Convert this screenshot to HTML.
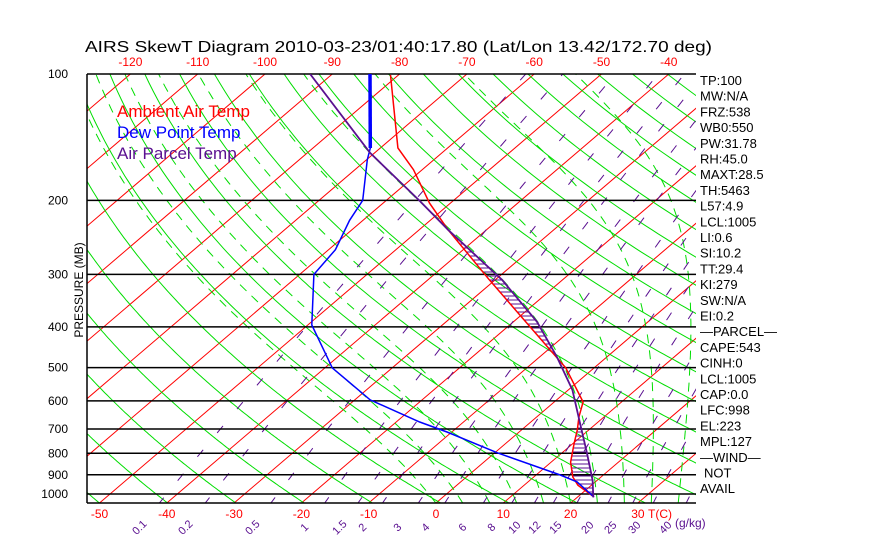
<!DOCTYPE html>
<html><head><meta charset="utf-8"><style>
html,body{margin:0;padding:0;background:#fff;}
svg{display:block;font-family:"Liberation Sans",sans-serif;}
</style></head><body>
<svg id="c" width="870" height="560" viewBox="0 0 870 560">
<defs><clipPath id="plot"><rect x="87" y="74" width="609" height="429"/></clipPath></defs>
<text x="85" y="52" font-size="16" fill="#000" textLength="627" lengthAdjust="spacingAndGlyphs">AIRS SkewT Diagram 2010-03-23/01:40:17.80 (Lat/Lon 13.42/172.70 deg)</text>
<text transform="translate(83,290) rotate(-90)" text-anchor="middle" font-size="12">PRESSURE (MB)</text>
<g id="grid" clip-path="url(#plot)"></g>
<g id="axes"></g>
<g id="series" clip-path="url(#plot)"></g>
<text x="117" y="117" font-size="17" fill="#ff0000">Ambient Air Temp</text>
<text x="117" y="138" font-size="17" fill="#0000ff">Dew Point Temp</text>
<text x="117" y="159" font-size="17" fill="#5a1090">Air Parcel Temp</text>
<g id="side" font-size="13"></g>
</svg>
<script>
const pressureLevels=[200,300,400,500,600,700,800,900,1000];
const pressureTickLabels=[100,200,300,400,500,600,700,800,900,1000];
const bottomTempTicks=[-50,-40,-30,-20,-10,0,10,20,30];
const topTempTicks=[-120,-110,-100,-90,-80,-70,-60,-50,-40];
const mixLabels=["0.1","0.2","0.5","1","1.5","2","3","4","6","8","10","12","15","20","25","30","40"];
const mixLabelX=[142,188,255,307,342,365,400,428,465,494,517,537,558,590,613,637,668];
const mixValues=[0.1,0.2,0.5,1,1.5,2,3,4,6,8,10,12,15,20,25,30,40];
const tempP=[100.5,150,169,203,235,309,371,447,501,604,656,704,756,840,911,953,1016];
const tempT=[-81.2,-67.4,-61.3,-53.1,-45.7,-30.9,-20.8,-10.5,-4.2,4.3,6.3,8.3,10.1,12.9,15.8,18.0,22.4];
const dewP=[100,150,160,200,223,262,300,396,501,597,674,712,798,901,936,1016];
const dewT=[-84.4,-71.5,-69.9,-63.5,-62.0,-59.0,-57.9,-49.4,-38.9,-27.7,-16.5,-10.7,0.4,13.6,17.3,22.4];
const parcelP=[100,154,200,235,309,389,472,565,678,798,927,1019];
const parcelT=[-93.3,-70.7,-55.1,-45.7,-29.0,-16.5,-7.4,0.6,7.5,13.7,19.3,22.4];
const sideLabels=["TP:100","MW:N/A","FRZ:538","WB0:550","PW:31.78","RH:45.0","MAXT:28.5","TH:5463","L57:4.9","LCL:1005","LI:0.6","SI:10.2","TT:29.4","KI:279","SW:N/A","EI:0.2","\u2014PARCEL\u2014","CAPE:543","CINH:0","LCL:1005","CAP:0.0","LFC:998","EL:223","MPL:127","\u2014WIND\u2014","NOT","AVAIL"];

const NS="http://www.w3.org/2000/svg";
const yP=p=>74+420*Math.log10(p/100);
const xT=(T,y)=>436+6.73*T+(503-y)*1.1702;
const pOfY=y=>100*Math.pow(10,(y-74)/420);
function mk(tag,attrs,parent){const e=document.createElementNS(NS,tag);for(const k in attrs)e.setAttribute(k,attrs[k]);parent.appendChild(e);return e;}
const grid=document.getElementById('grid'),axes=document.getElementById('axes'),series=document.getElementById('series'),side=document.getElementById('side');
function pathFrom(ps,ts){return ps.map((p,i)=>{const y=yP(p);return (i?'L':'M')+xT(ts[i],y).toFixed(1)+','+y.toFixed(1);}).join('');}

for(let T=-160;T<=50;T+=10){
 const l=mk('line',{x1:xT(T,503),y1:503,x2:xT(T,74),y2:74,stroke:'#ff0000','stroke-width':1},grid);
 
 
}
for(let th=200;th<=480;th+=10){
 let d='';
 for(let p=1060;p>=95;p-=5){const T=th*Math.pow(p/1000,0.286)-273.15;const y=yP(p);d+=(d?'L':'M')+xT(T,y).toFixed(1)+','+y.toFixed(1);}
 const e=mk('path',{d:d,fill:'none',stroke:'#00dd00','stroke-width':1},grid);
 
 
}
function es(T){return 6.112*Math.exp(17.67*T/(T+243.5));}
for(let T0=0;T0<=40;T0+=4){
 let T=T0+273.15,p=1051,d='';
 const Rd=287,Lv=2.5e6,cp=1004,eps=0.622;
 while(p>95){
  const y=yP(p);d+=(d?'L':'M')+xT(T-273.15,y).toFixed(1)+','+y.toFixed(1);
  const rs=eps*es(T-273.15)/(p-es(T-273.15));
  const dTdlnp=(Rd*T+Lv*rs)/(cp+Lv*Lv*rs*eps/(Rd*T*T));
  const np=p*0.98;T+=dTdlnp*Math.log(np/p);p=np;
 }
 const e=mk('path',{d:d,fill:'none',stroke:'#00dd00','stroke-width':1,'stroke-dasharray':'9 7'},grid);
 
 
}
mixValues.forEach(w=>{
 let d='';
 for(let p=1060;p>=100;p-=10){const e=w*p/(622+w);const L=Math.log(e/6.112);const Td=243.5*L/(17.67-L);const y=yP(p);d+=(d?'L':'M')+xT(Td,y).toFixed(1)+','+y.toFixed(1);}
 const e=mk('path',{d:d,fill:'none',stroke:'#5a1090','stroke-width':1,'stroke-dasharray':'9 22'},grid);
 
 
});
pressureLevels.forEach(p=>{
 const l=mk('line',{x1:87,x2:696,y1:yP(p),y2:yP(p),stroke:'#000','stroke-width':1.5},axes);
 
 
});
mk('line',{x1:87,x2:696,y1:74,y2:74,stroke:'#000','stroke-width':1.5},axes);
mk('line',{x1:87,x2:696,y1:503,y2:503,stroke:'#000','stroke-width':1.5},axes);
mk('line',{x1:87,x2:87,y1:74,y2:503,stroke:'#000','stroke-width':1.5},axes);
pressureTickLabels.forEach(p=>{
 const t=mk('text',{x:68,y:yP(p)+4,'text-anchor':'end','font-size':12},axes);t.textContent=p;
 
 
});
bottomTempTicks.forEach(T=>{
 const t=mk('text',{x:xT(T,503),y:518,'text-anchor':'middle','font-size':12,fill:'#ff0000'},axes);t.textContent=T;
 
 
});
topTempTicks.forEach(T=>{
 const t=mk('text',{x:xT(T,74),y:66,'text-anchor':'middle','font-size':12,fill:'#ff0000'},axes);t.textContent=T;
 
 
});
const tc=mk('text',{x:660,y:518,'font-size':12,fill:'#ff0000','text-anchor':'middle'},axes);tc.textContent='T(C)';


mixLabels.forEach((s,i)=>{
 const t=mk('text',{transform:`translate(${mixLabelX[i]},530) rotate(-45)`,'text-anchor':'middle','font-size':11,fill:'#5a1090'},axes);t.textContent=s;
 
 
});
const gk=mk('text',{x:675,y:527,'font-size':12,fill:'#5a1090'},axes);gk.textContent='(g/kg)';



function interpX(ps,ts,y){const p=pOfY(y);if(p<ps[0]||p>ps[ps.length-1])return null;for(let i=0;i<ps.length-1;i++){if(p>=ps[i]&&p<=ps[i+1]){const f=(Math.log(p)-Math.log(ps[i]))/(Math.log(ps[i+1])-Math.log(ps[i]));return xT(ts[i]+f*(ts[i+1]-ts[i]),y);}}return null;}
for(let y=76;y<=500;y+=4){
 const a=interpX(parcelP,parcelT,y),b=interpX(tempP,tempT,y);
 if(a!==null&&b!==null&&a>b+1){
  const l=mk('line',{x1:b,x2:a,y1:y,y2:y,stroke:'#5a1090','stroke-width':1},series);
  
  
 }
}
const pt=mk('path',{d:pathFrom(tempP,tempT),fill:'none',stroke:'#ff0000','stroke-width':1.5},series);


const pd=mk('path',{d:pathFrom(dewP,dewT),fill:'none',stroke:'#0000ff','stroke-width':1.5},series);


const pdt=mk('path',{d:pathFrom(dewP.slice(0,2),dewT.slice(0,2)),fill:'none',stroke:'#0000ff','stroke-width':3.5},series);


const pp=mk('path',{d:pathFrom(parcelP,parcelT),fill:'none',stroke:'#5a1090','stroke-width':1.8},series);



sideLabels.forEach((s,i)=>{
 const x=(s==='NOT')?704:700;
 const t=mk('text',{x:x,y:85+i*15.7},side);t.textContent=s;
 
 
});
</script>
</body></html>
